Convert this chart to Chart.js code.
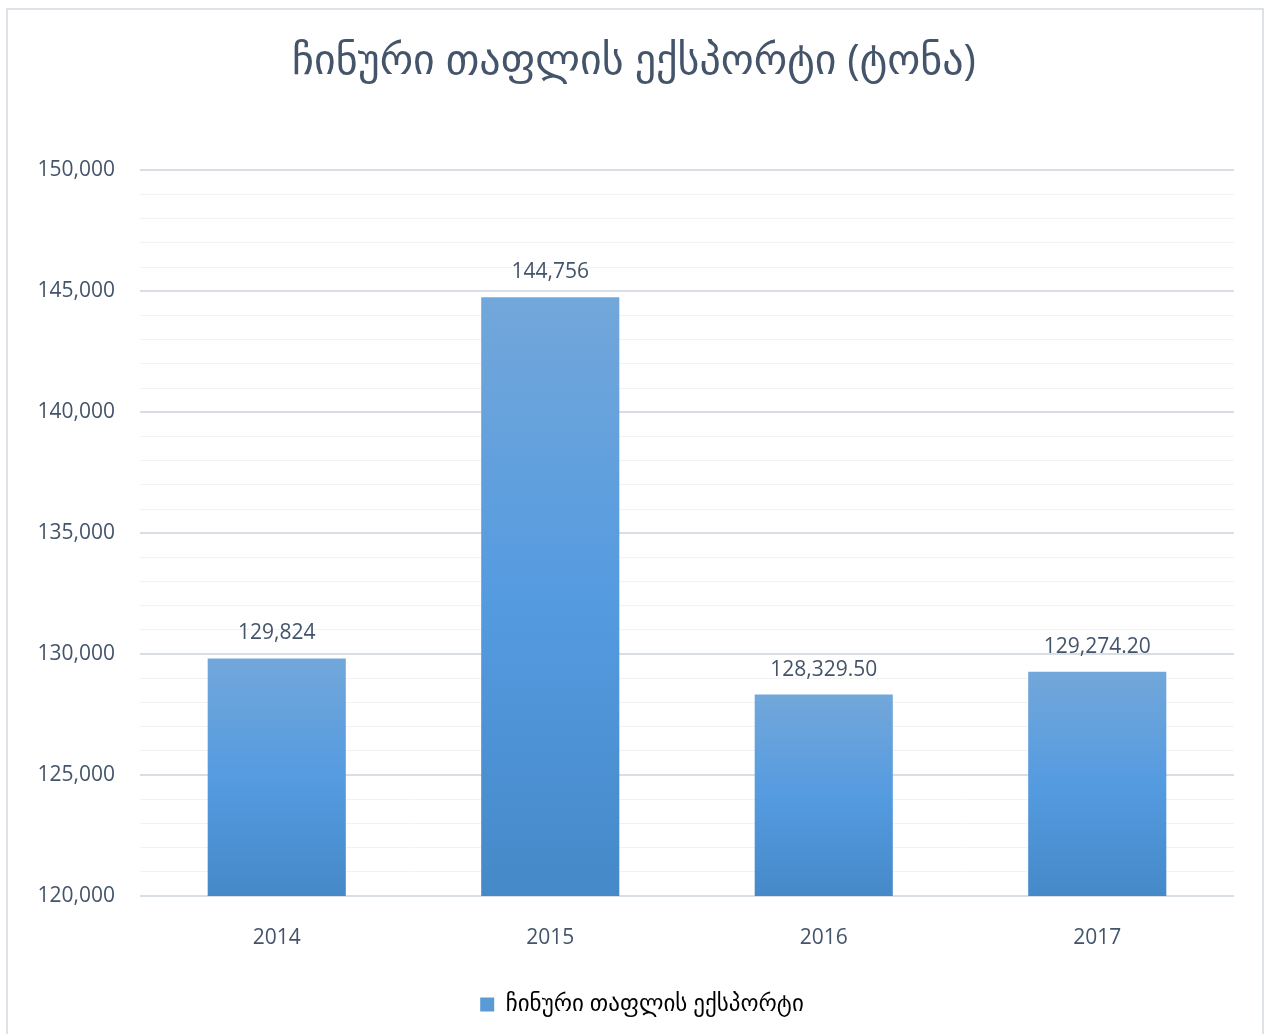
<!DOCTYPE html>
<html lang="ka">
<head>
    <meta charset="UTF-8">
    <title>ჩინური თაფლის ექსპორტი</title>
    <script src="https://cdn.jsdelivr.net/npm/chart.js"></script>
    <style>
        body { margin: 0; background: #fff; }
        .frame { position: absolute; left: 6px; top: 8px; width: 1254px; height: 1040px; border: 2px solid #dde2e9; }
        #chart { position: absolute; left: 0; top: 0; }
    </style>
</head>
<body>
    <div class="frame"></div>
    <canvas id="chart" width="1269" height="1034"></canvas>

    <script>
        // data
        const years = ['2014', '2015', '2016', '2017'];
        const exportTons = [129824, 144756, 128329.5, 129274.2];
        const seriesName = 'ჩინური თაფლის ექსპორტი';
        const titleText = 'ჩინური თაფლის ექსპორტი (ტონა)';
        const yMin = 120000, yMax = 150000, yMajor = 5000, yMinor = 1000;

        const textColor = '#44546a';
        const fontFamily = '"Open Sans", "DejaVu Sans", sans-serif';

        function fmt(v) {
            if (Number.isInteger(v)) return v.toLocaleString('en-US');
            return v.toLocaleString('en-US', { minimumFractionDigits: 2, maximumFractionDigits: 2 });
        }

        // one gradient per bar, from its top down to the base
        function barGradient(ctx) {
            const chart = ctx.chart;
            if (!chart.chartArea || ctx.type !== 'data') return '#5b9bd5';
            const y = chart.scales.y;
            const top = y.getPixelForValue(ctx.parsed.y);
            const base = y.getPixelForValue(yMin);
            const g = chart.ctx.createLinearGradient(0, top, 0, base);
            g.addColorStop(0, '#72a7da');
            g.addColorStop(0.5, '#559be0');
            g.addColorStop(1, '#4589c8');
            return g;
        }

        // value labels above the bars
        const valueLabels = {
            id: 'valueLabels',
            afterDatasetsDraw(chart) {
                const c = chart.ctx;
                const meta = chart.getDatasetMeta(0);
                c.save();
                c.font = '21px ' + fontFamily;
                c.fillStyle = textColor;
                c.textAlign = 'center';
                c.textBaseline = 'middle';
                meta.data.forEach((bar, i) => {
                    c.fillText(fmt(exportTons[i]), bar.x, bar.y - 25);
                });
                c.restore();
            }
        };

        // title and legend are centred on the whole frame, not on the padded area
        const recentre = {
            id: 'recentre',
            afterLayout(chart) {
                [[chart.titleBlock, 17], [chart.legend, 25]].forEach(([box, dx]) => {
                    if (!box) return;
                    box.left += dx;
                    box.right += dx;
                });
            }
        };

        new Chart(document.getElementById('chart'), {
            type: 'bar',
            data: {
                labels: years,
                datasets: [{
                    label: seriesName,
                    data: exportTons,
                    backgroundColor: barGradient,
                    categoryPercentage: 1,
                    barPercentage: 0.505
                }]
            },
            options: {
                responsive: false,
                devicePixelRatio: 1,
                animation: false,
                layout: { padding: { left: 0, right: 35, top: 0, bottom: 8 } },
                plugins: {
                    title: {
                        display: true,
                        text: titleText,
                        color: textColor,
                        font: { family: fontFamily, size: 42, weight: 'normal' },
                        padding: { top: 37, bottom: 83 }
                    },
                    legend: {
                        position: 'bottom',
                        labels: {
                            color: textColor,
                            font: { family: fontFamily, size: 23 },
                            boxWidth: 14,
                            boxHeight: 14,
                            padding: 10,
                            generateLabels: () => [{
                                text: seriesName,
                                fillStyle: '#5b9bd5',
                                strokeStyle: '#5b9bd5',
                                lineWidth: 0,
                                datasetIndex: 0
                            }]
                        }
                    },
                    tooltip: { enabled: false }
                },
                scales: {
                    x: {
                        grid: { display: false },
                        border: { display: false },
                        ticks: { color: textColor, font: { family: fontFamily, size: 21 }, padding: 21 },
                        afterFit: s => { s.height = 87; }
                    },
                    y: {
                        min: yMin,
                        max: yMax,
                        border: { display: false },
                        grid: {
                            drawTicks: false,
                            color: c => (c.tick && c.tick.value % yMajor === 0) ? '#d9dde4' : '#f2f2f2',
                            lineWidth: c => (c.tick && c.tick.value % yMajor === 0) ? 2 : 1
                        },
                        ticks: {
                            stepSize: yMinor,
                            autoSkip: false,
                            padding: 25,
                            color: textColor,
                            font: { family: fontFamily, size: 21 },
                            callback: v => (v % yMajor === 0) ? v.toLocaleString('en-US') : ''
                        },
                        afterFit: s => { s.width = 140; }
                    }
                }
            },
            plugins: [valueLabels, recentre]
        });
    </script>
</body>
</html>
